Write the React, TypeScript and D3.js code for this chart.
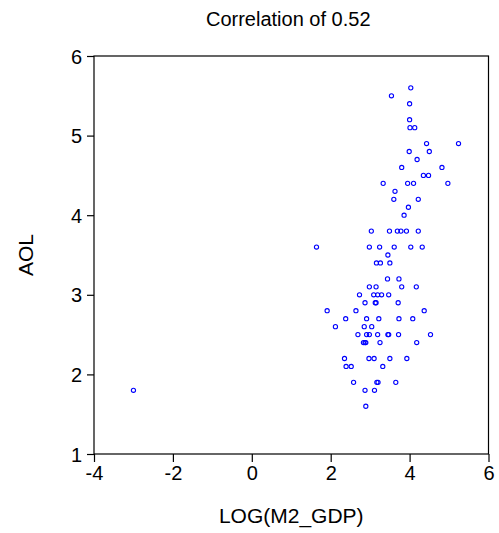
import React, { useRef, useEffect } from 'react';
import * as d3 from 'd3';

// LOG(M2_GDP) values
const m2Gdp = [
  4.03, 3.54, 4.0, 4.0, 4.01, 4.13, 4.43, 5.24, 3.99, 4.5, 4.19, 3.8, 4.82, 4.35, 4.48,
  3.33, 3.95, 4.1, 4.97, 3.63, 3.6, 4.22, 3.97, 3.86,
  3.03, 3.49, 3.69, 3.78, 3.92, 4.22,
  1.64, 2.98, 3.24, 3.61, 4.03, 4.32,
  3.45, 3.16, 3.26, 3.5, 3.44, 3.73,
  2.98, 3.15, 3.8, 4.17,
  2.73, 3.09, 3.19, 3.29, 3.47,
  2.87, 3.13, 3.15, 3.71,
  1.91, 2.64, 4.37,
  2.38, 2.91, 3.22, 3.73, 4.08,
  2.12, 2.85, 3.04,
  2.69, 2.91, 2.98, 3.19, 3.45, 3.47, 3.72, 4.53,
  2.83, 2.87, 2.89, 3.25, 4.18,
  2.35, 2.97, 3.1, 3.5, 3.93,
  2.39, 2.52, 3.32,
  2.58, 3.17, 3.2, 3.65,
  -3.0, 2.87, 3.11,
  2.89,
];

// AOL values, same order
const aol = [
  5.6, 5.5, 5.4, 5.2, 5.1, 5.1, 4.9, 4.9, 4.8, 4.8, 4.7, 4.6, 4.6, 4.5, 4.5,
  4.4, 4.4, 4.4, 4.4, 4.3, 4.2, 4.2, 4.1, 4.0,
  3.8, 3.8, 3.8, 3.8, 3.8, 3.8,
  3.6, 3.6, 3.6, 3.6, 3.6, 3.6,
  3.5, 3.4, 3.4, 3.4, 3.2, 3.2,
  3.1, 3.1, 3.1, 3.1,
  3.0, 3.0, 3.0, 3.0, 3.0,
  2.9, 2.9, 2.9, 2.9,
  2.8, 2.8, 2.8,
  2.7, 2.7, 2.7, 2.7, 2.7,
  2.6, 2.6, 2.6,
  2.5, 2.5, 2.5, 2.5, 2.5, 2.5, 2.5, 2.5,
  2.4, 2.4, 2.4, 2.4, 2.4,
  2.2, 2.2, 2.2, 2.2, 2.2,
  2.1, 2.1, 2.1,
  1.9, 1.9, 1.9, 1.9,
  1.8, 1.8, 1.8,
  1.6,
];

const xTicks = [-4, -2, 0, 2, 4, 6];
const yTicks = [1, 2, 3, 4, 5, 6];

const title = 'Correlation of 0.52';
const xTitle = 'LOG(M2_GDP)';
const yTitle = 'AOL';

const width = 499;
const height = 533;
const margins = { left: 94, right: 10.5, top: 56, bottom: 79 };
const font = 'Liberation Sans, Arial, Helvetica, sans-serif';

export default function App() {
  const ref = useRef(null);

  useEffect(() => {
    if (!ref.current) return;
    const svg = d3.select(ref.current);
    svg.selectAll('*').remove();

    const x = d3.scaleLinear().domain([-4, 6]).range([margins.left, width - margins.right]);
    const y = d3.scaleLinear().domain([1, 6]).range([height - margins.bottom, margins.top]);

    const points = m2Gdp.map((v, i) => ({ x: v, y: aol[i] }));

    // frame
    svg
      .append('rect')
      .attr('x', x(-4))
      .attr('y', y(6))
      .attr('width', x(6) - x(-4))
      .attr('height', y(1) - y(6))
      .attr('fill', 'none')
      .attr('stroke', '#000')
      .attr('stroke-width', 1.2);

    // x axis
    const xAxis = svg
      .append('g')
      .attr('transform', 'translate(0,' + y(1) + ')')
      .call(d3.axisBottom(x).tickValues(xTicks).tickSize(8).tickSizeOuter(0).tickFormat(d3.format('d')));
    xAxis.select('.domain').remove();
    xAxis.selectAll('line').attr('stroke', '#000').attr('stroke-width', 1.2);
    xAxis
      .selectAll('text')
      .attr('font-family', font)
      .attr('font-size', 20)
      .attr('fill', '#000')
      .attr('y', 12)
      .attr('dy', '0.71em')
      .text((d: any) => (d < 0 ? '-' + Math.abs(d) : String(d)));

    // y axis
    const yAxis = svg
      .append('g')
      .attr('transform', 'translate(' + x(-4) + ',0)')
      .call(d3.axisLeft(y).tickValues(yTicks).tickSize(7).tickSizeOuter(0).tickFormat(d3.format('d')));
    yAxis.select('.domain').remove();
    yAxis.selectAll('line').attr('stroke', '#000').attr('stroke-width', 1.2);
    yAxis
      .selectAll('text')
      .attr('font-family', font)
      .attr('font-size', 20)
      .attr('fill', '#000')
      .attr('x', -12)
      .attr('dy', '0.35em');

    // points
    svg
      .append('g')
      .selectAll('circle')
      .data(points)
      .join('circle')
      .attr('cx', (d: any) => x(d.x))
      .attr('cy', (d: any) => y(d.y))
      .attr('r', 2.1)
      .attr('fill', 'none')
      .attr('stroke', '#0000ff')
      .attr('stroke-width', 1.1);

    // titles
    svg
      .append('text')
      .attr('x', (x(-4) + x(6)) / 2 - 3)
      .attr('y', 26)
      .attr('text-anchor', 'middle')
      .attr('font-family', font)
      .attr('font-size', 20)
      .text(title);

    svg
      .append('text')
      .attr('x', (x(-4) + x(6)) / 2)
      .attr('y', 523)
      .attr('text-anchor', 'middle')
      .attr('font-family', font)
      .attr('font-size', 21)
      .text(xTitle);

    svg
      .append('text')
      .attr('transform', 'translate(33,' + (y(1) + y(6)) / 2 + ') rotate(-90)')
      .attr('text-anchor', 'middle')
      .attr('font-family', font)
      .attr('font-size', 21)
      .text(yTitle);
  }, []);

  return (
    <svg
      ref={ref}
      width={width}
      height={height}
      style={{ position: 'absolute', left: 0, top: 0, background: '#fff' }}
    />
  );
}
